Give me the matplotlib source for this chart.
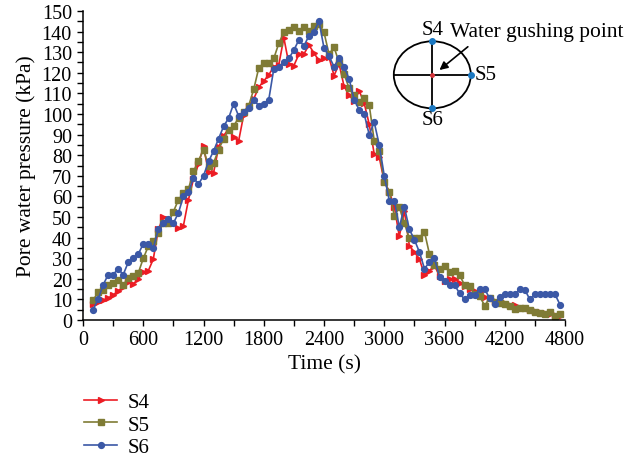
import matplotlib
matplotlib.use("Agg")
import matplotlib.pyplot as plt
from matplotlib.patches import Ellipse
from matplotlib.ticker import MultipleLocator

plt.rcParams["font.family"] = ["Liberation Serif", "DejaVu Serif"]

# ── data ──────────────────────────────────────────────────────────────────────
time_s = [100, 150, 200, 250, 300, 350, 400, 450, 500, 550,
          600, 650, 700, 750, 800, 850, 900, 950, 1000, 1050,
          1100, 1150, 1200, 1250, 1300, 1350, 1400, 1450, 1500, 1550,
          1600, 1650, 1700, 1750, 1800, 1850, 1900, 1950, 2000, 2050,
          2100, 2150, 2200, 2250, 2300, 2350, 2400, 2450, 2500, 2550,
          2600, 2650, 2700, 2750, 2800, 2850, 2900, 2950, 3000, 3050,
          3100, 3150, 3200, 3250, 3300, 3350, 3400, 3450, 3500, 3550,
          3600, 3650, 3700, 3750, 3800, 3850, 3900, 3950, 4000, 4050,
          4100, 4150, 4200, 4250, 4300, 4350, 4400, 4450, 4500, 4550,
          4600, 4650, 4700, 4750]

s4 = [7.8, 8.9, 9.7, 10.7, 12.1, 14.2, 15.9, 18.3, 17.5, 19.9,
      23.5, 23.9, 29.6, 44.0, 49.8, 49.0, 47.1, 44.5, 45.8, 58.4,
      68.4, 75.7, 84.3, 71.7, 71.4, 83.8, 89.5, 92.7, 88.7, 87.0,
      99.5, 104.0, 107.3, 113.0, 116.0, 119.0, 123.0, 124.0, 137.0, 124.3,
      123.5, 129.0, 129.1, 133.5, 129.5, 126.0, 127.0, 127.5, 118.6, 124.3,
      113.4, 109.0, 106.5, 111.3, 105.3, 95.1, 80.6, 79.0, 67.2, 62.3,
      55.0, 40.6, 53.0, 36.0, 33.0, 29.6, 22.0, 24.0, 26.4, 21.5,
      19.0, 19.9, 20.0, 18.0, 16.4, 15.0, 14.2, 13.4, 11.3, 10.5,
      9.4, 8.6, 8.3, 7.3, 7.3, 6.1, 5.7, 5.0, 4.5, 4.0,
      3.4, 2.9, 2.4, 2.1]

s5 = [9.7, 13.4, 14.7, 17.2, 18.0, 19.6, 17.0, 20.4, 21.2, 22.8,
      29.9, 35.8, 38.2, 42.1, 47.1, 47.1, 52.6, 58.3, 61.5, 63.6,
      72.2, 77.3, 82.7, 74.6, 76.2, 82.7, 87.9, 92.2, 94.3, 98.0,
      101.0, 104.0, 112.0, 122.3, 124.8, 124.8, 127.0, 134.3, 139.6, 140.8,
      142.1, 140.5, 142.1, 140.1, 142.9, 143.7, 139.6, 129.0, 132.4, 125.0,
      119.4, 112.5, 109.0, 106.0, 107.6, 104.4, 87.0, 82.2, 67.2, 62.3,
      50.6, 54.7, 47.1, 39.6, 39.6, 40.0, 42.9, 32.0, 26.7, 25.0,
      26.0, 23.5, 24.0, 21.8, 17.0, 16.4, 12.6, 11.5, 7.0, 10.7,
      8.6, 8.3, 7.8, 7.0, 5.3, 6.1, 5.7, 4.9, 4.0, 3.4,
      2.9, 3.7, 1.8, 2.9]

s6 = [5.0, 10.0, 17.0, 22.0, 22.0, 25.0, 22.0, 28.0, 30.0, 32.0,
      37.0, 37.0, 35.0, 44.0, 47.0, 49.0, 47.0, 52.0, 60.0, 62.0,
      69.0, 66.0, 70.0, 77.0, 82.0, 88.0, 94.0, 98.0, 105.0, 99.0,
      101.0, 103.0, 107.0, 104.0, 105.0, 107.0, 122.0, 123.0, 125.0, 127.0,
      131.0, 136.0, 133.0, 138.0, 140.0, 145.0, 132.0, 128.0, 123.0, 127.0,
      123.0, 117.0, 107.0, 102.0, 100.0, 90.0, 96.0, 85.0, 70.0, 58.0,
      58.0, 45.0, 55.0, 44.0, 39.0, 33.0, 25.0, 28.0, 30.0, 21.0,
      19.0, 17.0, 17.0, 13.0, 10.0, 12.0, 12.0, 15.0, 15.0, 10.5,
      8.0, 11.0, 12.5, 12.5, 12.5, 15.0, 14.7, 10.0, 12.5, 12.5,
      12.5, 12.5, 12.5, 7.5]

series = [("S4", s4, "#ec1c24", ">"),
          ("S5", s5, "#7f7b35", "s"),
          ("S6", s6, "#3b58a6", "o")]

# ── figure ────────────────────────────────────────────────────────────────────
fig = plt.figure(figsize=(6.26, 4.60), dpi=100)
ax = fig.add_axes([0.1326, 0.302, 0.77, 0.672])

for name, vals, col, mk in series:
    ax.plot(time_s, vals, color=col, marker=mk, markersize=4.2,
            linewidth=1.2, label=name)

ax.set_xlim(0, 4800)
ax.set_ylim(0, 150)
ax.xaxis.set_major_locator(MultipleLocator(600))
ax.xaxis.set_minor_locator(MultipleLocator(300))
ax.yaxis.set_major_locator(MultipleLocator(10))
ax.yaxis.set_minor_locator(MultipleLocator(5))
ax.tick_params(which="both", direction="out", length=4, width=1,
               labelsize=14.5)
ax.tick_params(axis="x", pad=3)
ax.tick_params(axis="y", pad=4)
for side in ("top", "right"):
    ax.spines[side].set_visible(False)
for side in ("left", "bottom"):
    ax.spines[side].set_linewidth(1.1)

ax.set_xlabel("Time (s)", fontsize=15.5, labelpad=4)
ax.set_ylabel("Pore water pressure (kPa)", fontsize=15.5, labelpad=4)

fig.legend(loc="upper left", bbox_to_anchor=(0.134, 0.145), frameon=False,
           fontsize=15, handlelength=1.6, handletextpad=0.5,
           labelspacing=0.15, borderpad=0, borderaxespad=0)

# ── inset sketch of the monitoring points ─────────────────────────────────────
sk = fig.add_axes([0, 0, 1, 1], facecolor="none")
sk.set_xlim(0, 626)
sk.set_ylim(460, 0)
sk.axis("off")
cx, cy, w, h = 432.3, 75.8, 77, 67
sk.add_patch(Ellipse((cx, cy), w, h, fill=False, color="black", lw=1.3))
sk.plot([cx - w / 2, cx + w / 2], [cy, cy], color="black", lw=1.3)
sk.plot([cx, cx], [cy - h / 2, cy + h / 2], color="black", lw=1.3)
sk.plot([cx, cx + w / 2, cx], [cy - h / 2, cy, cy + h / 2], "o",
        color="#1a78c2", markersize=4)
sk.plot([cx], [cy], "o", color="#d6343a", markersize=2.5)
sk.annotate("", xy=(cx + 5, cy - 3), xytext=(470, 46),
            arrowprops=dict(arrowstyle="-|>", color="black", lw=1.2,
                            mutation_scale=12))
sk.text(cx, cy - h / 2 - 2, "S4", fontsize=15, ha="center", va="bottom")
sk.text(cx + w / 2 + 4, cy, "S5", fontsize=15, ha="left", va="center")
sk.text(cx, cy + h / 2 + 2, "S6", fontsize=15, ha="center", va="top")
sk.text(450, 33, "Water gushing point", fontsize=15.5, ha="left",
        va="center")

fig.savefig("out.png", dpi=100)
